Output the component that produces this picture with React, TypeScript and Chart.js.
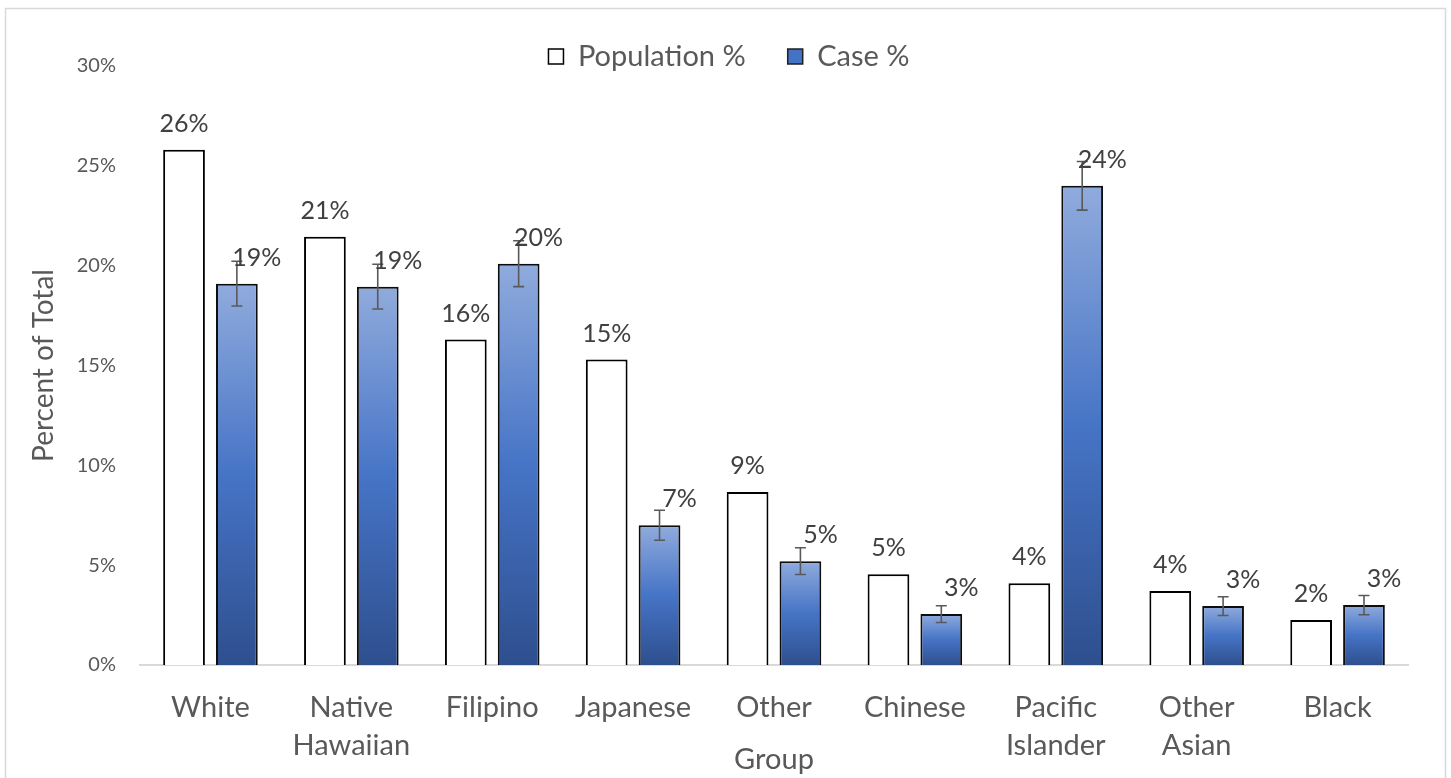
import React, { useEffect, useRef } from "react";
import { Chart, registerables } from "chart.js";

Chart.register(...registerables);

const categories: (string | string[])[] = [
  "White",
  ["Native", "Hawaiian"],
  "Filipino",
  "Japanese",
  "Other",
  "Chinese",
  ["Pacific", "Islander"],
  ["Other", "Asian"],
  "Black",
];
const populationPct = [25.8, 21.45, 16.3, 15.3, 8.67, 4.55, 4.1, 3.7, 2.25];
const casePct = [19.1, 18.95, 20.1, 7.0, 5.2, 2.55, 24.0, 2.95, 3.0];
const caseErr = [1.12, 1.12, 1.15, 0.75, 0.67, 0.42, 1.22, 0.47, 0.48];
const yTicks = [0, 5, 10, 15, 20, 25, 30];

const FONT = 'Lato, "Open Sans", sans-serif';
const TEXT = "#595959";

const borderPlugin = {
  id: "outerBorder",
  beforeDraw(chart: any) {
    const ctx = chart.ctx;
    ctx.save();
    ctx.strokeStyle = "#d9d9d9";
    ctx.lineWidth = 1.5;
    ctx.strokeRect(5.5, 8.5, 1440, 820);
    ctx.restore();
    const l = chart.legend;
    if (l && !l.__noclip) {
      l.__noclip = true;
      l.draw = function () {
        if (this.options.display) this._draw();
      };
    }
  },
};

const errorBarPlugin = {
  id: "errorBars",
  afterDatasetsDraw(chart: any) {
    const ctx = chart.ctx;
    const meta = chart.getDatasetMeta(1);
    const ys = chart.scales.y;
    ctx.save();
    ctx.strokeStyle = "#595959";
    ctx.lineWidth = 1.6;
    meta.data.forEach((el: any, i: number) => {
      const v = casePct[i];
      const e = caseErr[i];
      const yt = ys.getPixelForValue(v + e);
      const yb = ys.getPixelForValue(v - e);
      ctx.beginPath();
      ctx.moveTo(el.x, yt);
      ctx.lineTo(el.x, yb);
      ctx.moveTo(el.x - 5.5, yt);
      ctx.lineTo(el.x + 5.5, yt);
      ctx.moveTo(el.x - 5.5, yb);
      ctx.lineTo(el.x + 5.5, yb);
      ctx.stroke();
    });
    ctx.restore();
  },
};

const labelPlugin = {
  id: "valueLabels",
  afterDatasetsDraw(chart: any) {
    const ctx = chart.ctx;
    ctx.save();
    ctx.font = `25px ${FONT}`;
    ctx.fillStyle = "#404040";
    ctx.textAlign = "center";
    ctx.textBaseline = "middle";
    chart.data.datasets.forEach((ds: any, di: number) => {
      const meta = chart.getDatasetMeta(di);
      meta.data.forEach((el: any, i: number) => {
        const v = ds.data[i] as number;
        const dx = di === 1 ? 20 : 0;
        ctx.fillText(`${Math.round(v)}%`, el.x + dx, el.y - 26);
      });
    });
    ctx.restore();
  },
};

export default function App() {
  const ref = useRef<HTMLCanvasElement | null>(null);

  useEffect(() => {
    document.body.style.margin = "0";
    document.body.style.overflow = "hidden";
    if (!ref.current) return;
    Chart.defaults.font.family = FONT;

    const caseFill = (c: any) => {
      const chart = c.chart;
      if (!chart.chartArea || c.type !== "data" || !chart.scales.y) return "#4472c4";
      const ys = chart.scales.y;
      const top = ys.getPixelForValue(c.raw as number);
      const bottom = ys.getPixelForValue(0);
      const g = chart.ctx.createLinearGradient(0, top, 0, bottom);
      g.addColorStop(0, "#90abdd");
      g.addColorStop(0.5, "#4674c6");
      g.addColorStop(1, "#2e4f8e");
      return g;
    };

    const chart = new Chart(ref.current, {
      type: "bar",
      data: {
        labels: categories,
        datasets: [
          {
            label: "Population %",
            data: populationPct,
            backgroundColor: "#ffffff",
            borderColor: "#000000",
            borderWidth: 2,
            categoryPercentage: 0.75,
            barPercentage: 0.79,
          },
          {
            label: "Case %",
            data: casePct,
            backgroundColor: caseFill,
            borderColor: "#0d0d0d",
            borderWidth: 2,
            categoryPercentage: 0.75,
            barPercentage: 0.79,
          },
        ],
      },
      options: {
        responsive: false,
        animation: false,
        layout: { padding: { top: 0, left: 50, right: 43, bottom: 0 } },
        plugins: {
          tooltip: { enabled: false },
          legend: {
            display: true,
            position: "top",
            maxHeight: 66,
            labels: {
              font: { size: 29, family: FONT },
              color: TEXT,
              boxWidth: 15,
              boxHeight: 15,
              padding: 42,
              generateLabels: () => [
                {
                  text: "Population %",
                  fillStyle: "#ffffff",
                  strokeStyle: "#000000",
                  lineWidth: 1.5,
                  fontColor: TEXT,
                  datasetIndex: 0,
                  hidden: false,
                },
                {
                  text: "Case %",
                  fillStyle: "#4472c4",
                  strokeStyle: "#1f1f1f",
                  lineWidth: 1.5,
                  fontColor: TEXT,
                  datasetIndex: 1,
                  hidden: false,
                },
              ],
            },
          },
        },
        scales: {
          x: {
            grid: { display: false, drawTicks: false },
            border: { display: true, color: "#d9d9d9", width: 2 },
            ticks: {
              font: { size: 29, family: FONT, lineHeight: 1.31 },
              color: TEXT,
              padding: 24,
              maxRotation: 0,
              autoSkip: false,
            },
            title: {
              display: true,
              text: "Group",
              font: { size: 29, family: FONT },
              color: TEXT,
              padding: { top: 0, bottom: 1 },
            },
            afterFit: (s: any) => {
              s.height = 113;
            },
          },
          y: {
            min: 0,
            max: 30,
            grid: { display: false, drawTicks: false },
            border: { display: false },
            afterBuildTicks: (s: any) => {
              s.ticks = yTicks.map((v) => ({ value: v }));
            },
            ticks: {
              font: { size: 20, family: FONT },
              color: TEXT,
              padding: 24,
              callback: (v: any) => `${v}%`,
            },
            title: {
              display: true,
              text: "Percent of Total",
              font: { size: 28, family: FONT },
              color: TEXT,
              padding: { top: -23, bottom: 0 },
            },
            afterFit: (s: any) => {
              s.width = 90;
            },
          },
        },
      },
      plugins: [borderPlugin, errorBarPlugin, labelPlugin],
    });
    return () => chart.destroy();
  }, []);

  return (
    <div style={{ width: 1451, height: 778, position: "relative" }}>
      <canvas ref={ref} width={1451} height={778} />
    </div>
  );
}
